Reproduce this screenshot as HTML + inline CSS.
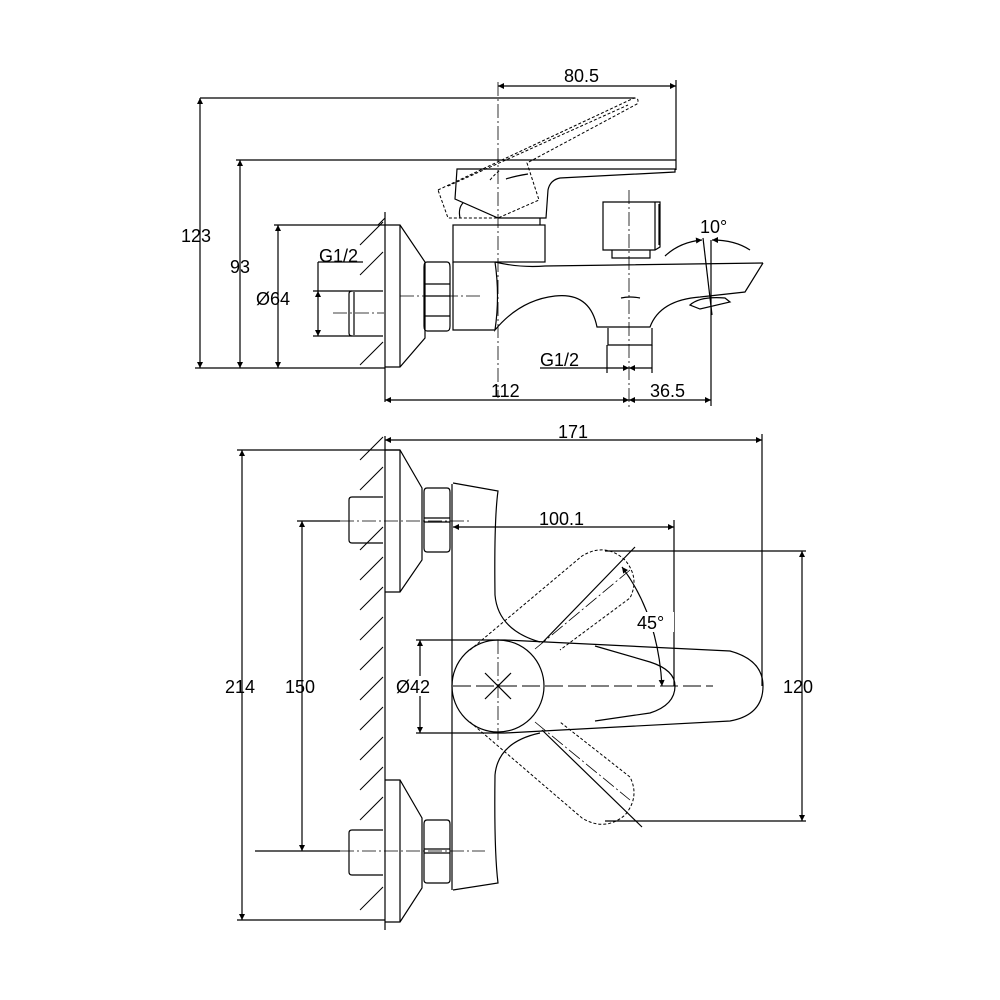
<!DOCTYPE html>
<html><head><style>body{margin:0;background:#fff}svg{display:block}text{font-family:"Liberation Sans",sans-serif;font-size:18px;fill:#000}</style></head>
<body>
<svg width="1000" height="1000" viewBox="0 0 1000 1000" xmlns="http://www.w3.org/2000/svg">
<defs>
<marker id="a" viewBox="0 0 10 10" refX="10" refY="5" markerWidth="14" markerHeight="6" orient="auto-start-reverse" markerUnits="userSpaceOnUse"><path d="M0,0L10,5L0,10z" fill="#000"/></marker>
</defs>
<g fill="none" stroke="#000" stroke-width="1.2">
<!-- ========== TOP VIEW ========== -->
<line x1="385" y1="212" x2="385" y2="402"/>
<g stroke-width="1">
<line x1="360" y1="245" x2="383" y2="222"/><line x1="360" y1="275" x2="383" y2="252"/><line x1="360" y1="365" x2="383" y2="342"/><line x1="378" y1="225" x2="385" y2="218"/>
</g>
<path d="M385,225H400L425,262V338L400,367H385"/><line x1="400" y1="225" x2="400" y2="367"/>
<path d="M427,262H447Q450,262 450,267V326Q450,331 447,331H427Q424,331 424,326V267Q424,262 427,262Z"/>
<line x1="424" y1="284" x2="450" y2="284"/><line x1="424" y1="296" x2="450" y2="296"/><line x1="424" y1="316" x2="450" y2="316"/>
<path d="M383,291H352Q349,291 349,294V333Q349,336 352,336H383"/><line x1="354" y1="292" x2="354" y2="335"/>
<rect x="453" y="225" width="92" height="37"/>
<path d="M453,262V330H495"/>
<path d="M495,262Q500,296 495,330Q520,300 555,296Q590,292 597,327H650Q660,300 700,297L745,292L763,263"/>
<path d="M495,262Q520,268 545,266L763,263"/>
<path d="M690,305Q700,296 725,298L730,302L700,309Z"/>
<path d="M621,298Q630,296 640,298"/>
<path d="M608,328V345H652V328"/>
<path d="M457,169L675,169L675,172L560,178Q550,180 548,190L546,218L498,218L455,199Z"/>
<path d="M460,218Q458,208 463,203"/><path d="M540,218V225"/>
<path d="M506,179Q515,176 528,174"/>
<g stroke-dasharray="3,2" stroke-width="1">
<path d="M438,190L634,98Q640,98 637,104L527,163L539,200L498,218L448,218Z"/>
<path d="M448,186L628,105"/><path d="M490,180Q495,174 500,170"/>
</g>
<path d="M603,202H660V247L655,250H603Z"/><path d="M655,202V250M659,204V245"/><path d="M612,250V258H650V250"/>
<g stroke-width="0.8" stroke-dasharray="14,3,2,3">
<line x1="498" y1="82" x2="498" y2="398"/>
<line x1="629" y1="190" x2="629" y2="410"/>
<line x1="333" y1="313" x2="384" y2="313"/>
<line x1="400" y1="296" x2="480" y2="296"/>
</g>
<line x1="200" y1="98" x2="635" y2="98"/>
<line x1="195" y1="368" x2="385" y2="368"/>
<line x1="200" y1="98" x2="200" y2="368" marker-start="url(#a)" marker-end="url(#a)"/>
<line x1="236" y1="160" x2="676" y2="160"/>
<line x1="240" y1="160" x2="240" y2="368" marker-start="url(#a)" marker-end="url(#a)"/>
<line x1="274" y1="225" x2="385" y2="225"/>
<line x1="278" y1="225" x2="278" y2="368" marker-start="url(#a)" marker-end="url(#a)"/>
<line x1="318" y1="262" x2="363" y2="262"/>
<line x1="318" y1="262" x2="318" y2="291"/>
<line x1="313" y1="291" x2="352" y2="291"/><line x1="313" y1="336" x2="352" y2="336"/>
<line x1="318" y1="291" x2="318" y2="336" marker-start="url(#a)" marker-end="url(#a)"/>
<line x1="498" y1="86" x2="676" y2="86" marker-start="url(#a)" marker-end="url(#a)"/>
<line x1="676" y1="80" x2="676" y2="170"/>
<line x1="385" y1="400" x2="629" y2="400" marker-start="url(#a)" marker-end="url(#a)"/>
<line x1="629" y1="400" x2="711" y2="400" marker-start="url(#a)" marker-end="url(#a)"/>
<line x1="711" y1="240" x2="711" y2="406"/>
<line x1="703" y1="238" x2="712" y2="315"/>
<line x1="540" y1="368" x2="607" y2="368"/>
<line x1="607" y1="345" x2="607" y2="373"/><line x1="652" y1="345" x2="652" y2="373"/>
<line x1="607" y1="368" x2="629" y2="368" marker-end="url(#a)"/>
<line x1="652" y1="368" x2="629" y2="368" marker-end="url(#a)"/>
<path d="M665,256Q680,242 702,240" marker-end="url(#a)"/>
<path d="M750,250Q735,240 712,240" marker-end="url(#a)"/>

<!-- ========== BOTTOM VIEW ========== -->
<line x1="385" y1="436" x2="385" y2="930"/>
<g stroke-width="1">
<line x1="360" y1="460" x2="383" y2="437"/><line x1="360" y1="490" x2="383" y2="467"/>
<line x1="360" y1="550" x2="383" y2="527"/><line x1="360" y1="580" x2="383" y2="557"/>
<line x1="360" y1="610" x2="383" y2="587"/><line x1="360" y1="640" x2="383" y2="617"/>
<line x1="360" y1="670" x2="383" y2="647"/><line x1="360" y1="700" x2="383" y2="677"/>
<line x1="360" y1="730" x2="383" y2="707"/><line x1="360" y1="760" x2="383" y2="737"/>
<line x1="360" y1="790" x2="383" y2="767"/><line x1="360" y1="820" x2="383" y2="797"/>
<line x1="360" y1="910" x2="383" y2="887"/>
</g>
<path d="M385,450H400L422,488V560L400,592H385"/><line x1="400" y1="450" x2="400" y2="592"/>
<path d="M427,488H447Q450,488 450,492V548Q450,552 447,552H427Q424,552 424,548V492Q424,488 427,488Z"/><line x1="424" y1="518" x2="450" y2="518"/><line x1="424" y1="522" x2="450" y2="522"/>
<path d="M383,497H352Q349,497 349,500V540Q349,543 352,543H383"/>
<path d="M385,780H400L422,818V888L400,922H385"/><line x1="400" y1="780" x2="400" y2="922"/>
<path d="M427,820H447Q450,820 450,824V880Q450,883 447,883H427Q424,883 424,880V824Q424,820 427,820Z"/><line x1="424" y1="849" x2="450" y2="849"/><line x1="424" y1="853" x2="450" y2="853"/>
<path d="M383,830H352Q349,830 349,833V872Q349,875 352,875H383"/>
<path d="M452,484V890"/>
<path d="M453,483L498,491Q494,520 495,595Q498,630 540,642"/>
<path d="M453,890L498,883Q494,850 495,775Q498,742 540,733"/>
<circle cx="498" cy="686" r="46"/>
<path d="M505,640L730,651Q763,660 763,686Q763,715 730,721L505,733"/>
<path d="M595,646L650,662Q675,670 675,686Q675,705 650,713L595,721"/>
<g stroke-dasharray="3,2" stroke-width="1">
<path d="M470,650L582,556Q605,542 625,560Q640,578 630,598L560,650"/>
<path d="M470,722L582,818Q605,832 625,815Q640,797 630,777L560,722"/>
</g>
<line x1="542" y1="643" x2="635" y2="547"/>
<line x1="542" y1="730" x2="642" y2="827"/>
<g stroke-width="0.8" stroke-dasharray="14,3,2,3">
<line x1="340" y1="521" x2="470" y2="521"/>
<line x1="340" y1="851" x2="485" y2="851"/>
<line x1="498" y1="640" x2="498" y2="740"/>
<line x1="535" y1="649" x2="630" y2="570"/>
<line x1="535" y1="722" x2="630" y2="800"/>
</g>
<line x1="453" y1="686" x2="713" y2="686" stroke-dasharray="18,5" stroke-width="1"/>
<line x1="485" y1="673" x2="511" y2="699"/><line x1="511" y1="673" x2="485" y2="699"/>
<line x1="385" y1="440" x2="762" y2="440" marker-start="url(#a)" marker-end="url(#a)"/>
<line x1="762" y1="434" x2="762" y2="686"/>
<line x1="453" y1="527" x2="674" y2="527" marker-start="url(#a)" marker-end="url(#a)"/>
<line x1="674" y1="520" x2="674" y2="686"/>
<line x1="605" y1="551" x2="806" y2="551"/><line x1="605" y1="821" x2="806" y2="821"/>
<line x1="802" y1="551" x2="802" y2="821" marker-start="url(#a)" marker-end="url(#a)"/>
<line x1="237" y1="450" x2="400" y2="450"/><line x1="237" y1="920" x2="385" y2="920"/>
<line x1="242" y1="450" x2="242" y2="920" marker-start="url(#a)" marker-end="url(#a)"/>
<line x1="297" y1="521" x2="340" y2="521"/><line x1="255" y1="851" x2="340" y2="851"/>
<line x1="302" y1="521" x2="302" y2="851" marker-start="url(#a)" marker-end="url(#a)"/>
<line x1="416" y1="640" x2="505" y2="640"/><line x1="416" y1="733" x2="505" y2="733"/>
<line x1="420" y1="640" x2="420" y2="733" marker-start="url(#a)" marker-end="url(#a)"/>
<path d="M622,567Q658,615 662,686" marker-start="url(#a)" marker-end="url(#a)"/>
</g>
<rect x="632" y="612" width="42" height="20" fill="#fff"/>
<rect x="393" y="676" width="50" height="20" fill="#fff"/>
<text x="564" y="82">80.5</text>
<text x="181" y="242">123</text>
<text x="230" y="273">93</text>
<text x="256" y="305">Ø64</text>
<text x="319" y="262">G1/2</text>
<text x="700" y="233">10°</text>
<text x="540" y="366">G1/2</text>
<text x="491" y="397">112</text>
<text x="650" y="397">36.5</text>
<text x="558" y="438">171</text>
<text x="539" y="525">100.1</text>
<text x="637" y="629">45°</text>
<text x="396" y="693">Ø42</text>
<text x="783" y="693">120</text>
<text x="225" y="693">214</text>
<text x="285" y="693">150</text>
</svg>
</body></html>
